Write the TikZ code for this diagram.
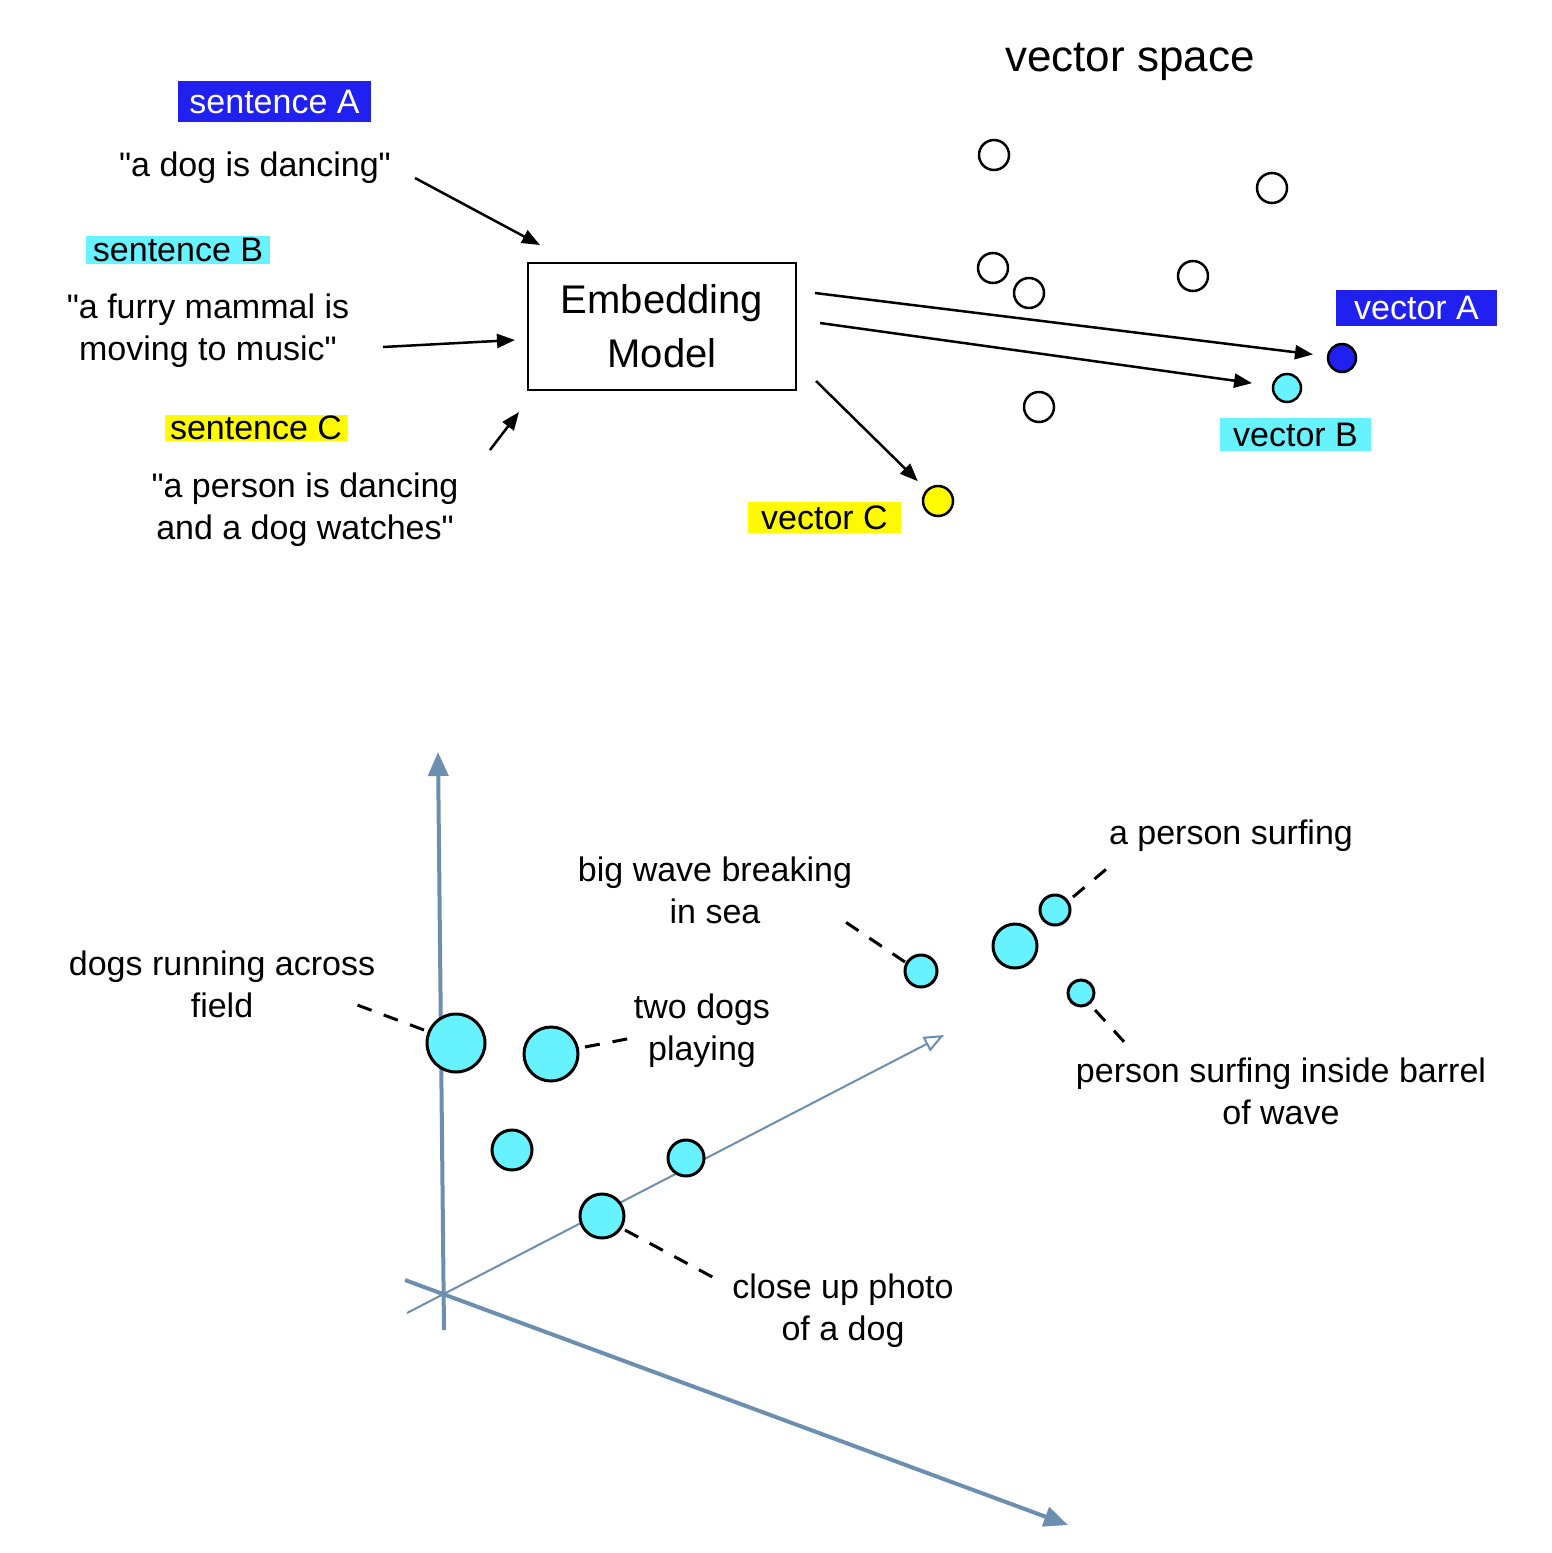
\documentclass[tikz,border=0pt]{standalone}
\usepackage{fontspec}
\setmainfont{Liberation Sans}[Ligatures=TeXOff]
\usetikzlibrary{arrows.meta}
\definecolor{hlblue}{RGB}{32,32,240}
\definecolor{hlcyan}{RGB}{102,242,255}
\definecolor{hlyellow}{RGB}{255,250,0}
\definecolor{axiscol}{RGB}{108,142,175}
\tikzset{
  lbl/.style={font=\fontsize{34}{42}\selectfont, align=center, inner sep=0pt},
  hlbox/.style={lbl, minimum width=#1, minimum height=34pt, inner sep=0pt},
  arr/.style={line width=2.5pt, -{Triangle[length=18pt,width=14pt]}},
  emptydot/.style={circle, draw=black, line width=2.5pt, fill=white, minimum size=30pt, inner sep=0pt},
  dot/.style={circle, draw=black, line width=3pt, fill=hlcyan, minimum size=#1, inner sep=0pt},
  lead/.style={line width=3pt, dash pattern=on 15pt off 13pt},
  axisline/.style={draw=axiscol, line width=4pt},
}
\begin{document}
\begin{tikzpicture}[x=1pt,y=-1pt]
\useasboundingbox[fill=white] (0,0) rectangle (1551,1553);

% ---------- top part ----------
\node[lbl, font=\fontsize{44}{50}\selectfont] (vs) at (1130,62) {vector space};

\node[hlbox=193pt, minimum height=41pt, fill=hlblue, text=white] (sA) at (274.5,101.5) {sentence A};
\node[lbl] (qa) at (255,168) {"a dog is dancing"};
\node[hlbox=184pt, minimum height=28pt, fill=hlcyan] (sB) at (178,250) {sentence B};
\node[lbl] (qb) at (208,331) {"a furry mammal is\\moving to music"};
\node[hlbox=183pt, minimum height=26pt, fill=hlyellow] (sC) at (256,428) {sentence C};
\node[lbl] (qc) at (305,510) {"a person is dancing\\and a dog watches"};

\node[draw, line width=2.5pt, minimum width=268pt, minimum height=127pt, inner sep=0pt,
      font=\fontsize{40}{54}\selectfont, align=center] (emb) at (662,326.5) {Embedding\\Model};

\coordinate (ia1) at (415,178); \coordinate (ia2) at (540,245);
\coordinate (ib1) at (383,347); \coordinate (ib2) at (515,340);
\coordinate (ic1) at (490,450); \coordinate (ic2) at (519,412);
\draw[arr] (ia1) -- (ia2);
\draw[arr] (ib1) -- (ib2);
\draw[arr] (ic1) -- (ic2);

% empty vectors
\node[emptydot] (e1) at (994,155) {};
\node[emptydot] (e2) at (1272,188) {};
\node[emptydot] (e3) at (993,268) {};
\node[emptydot] (e4) at (1029,293) {};
\node[emptydot] (e5) at (1193,276) {};
\node[emptydot] (e6) at (1039,407) {};

% coloured vectors
\node[circle, draw=black, line width=2.5pt, fill=hlblue, minimum size=28pt, inner sep=0pt] (dA) at (1342,358) {};
\node[circle, draw=black, line width=2.5pt, fill=hlcyan, minimum size=28pt, inner sep=0pt] (dB) at (1287,388) {};
\node[circle, draw=black, line width=2.5pt, fill=hlyellow, minimum size=30pt, inner sep=0pt] (dC) at (938,501) {};

\node[hlbox=161pt, minimum height=36pt, fill=hlblue, text=white] (vA) at (1416.5,308) {vector A};
\node[hlbox=151pt, minimum height=33pt, fill=hlcyan] (vB) at (1295.5,434.5) {vector B};
\node[hlbox=153pt, minimum height=31pt, fill=hlyellow] (vC) at (824.5,517.5) {vector C};

\coordinate (oA) at (815,293);
\coordinate (oB) at (820,323);
\coordinate (oC) at (816,381);
\draw[arr, shorten >=14pt] (oA) -- (dA);
\draw[arr, shorten >=20pt] (oB) -- (dB);
\draw[arr, shorten >=12pt] (oC) -- (dC);

% ---------- bottom part ----------
\coordinate (vbot) at (444,1330); \coordinate (vtop) at (438,752);
\coordinate (dstart) at (405,1280); \coordinate (dend) at (1068,1525);
\coordinate (tstart) at (407,1313); \coordinate (tend) at (944,1035);
\draw[axisline, -{Triangle[length=24pt,width=20pt]}, axiscol] (vbot) -- (vtop);
\draw[axisline, -{Triangle[length=24pt,width=20pt]}, axiscol] (dstart) -- (dend);
\draw[draw=axiscol, line width=2pt, -{Triangle[open,length=20pt,width=16pt]}] (tstart) -- (tend);

\node[dot=58pt] (p1) at (456,1043) {};
\node[dot=54pt] (p2) at (551,1054) {};
\node[dot=40pt] (p3) at (512,1150) {};
\node[dot=36pt] (p4) at (686,1158) {};
\node[dot=44pt] (p5) at (602,1216) {};
\node[dot=32pt] (p6) at (921,971) {};
\node[dot=44pt] (p7) at (1015,946) {};
\node[dot=30pt] (p8) at (1055,910) {};
\node[dot=26pt] (p9) at (1081,993) {};

\node[lbl] (t1) at (222,984) {dogs running across\\field};
\node[lbl] (t2) at (702,1031) {two dogs\\playing};
\node[lbl] (t3) at (715,890) {big wave breaking\\in sea};
\node[lbl] (t4) at (1231,836) {a person surfing};
\node[lbl] (t5) at (1281,1091) {person surfing inside barrel\\of wave};
\node[lbl] (t6) at (843,1311) {close up photo\\of a dog};

\coordinate (k1a) at (424,1030); \coordinate (k1b) at (352,1003);
\coordinate (k2a) at (585,1047); \coordinate (k2b) at (632,1038);
\coordinate (k3a) at (905,962);  \coordinate (k3b) at (838,917);
\coordinate (k4a) at (1073,897); \coordinate (k4b) at (1110,866);
\coordinate (k5a) at (1095,1010); \coordinate (k5b) at (1127,1045);
\coordinate (k6a) at (625,1230); \coordinate (k6b) at (718,1280);
\draw[lead] (k1a) -- (k1b);
\draw[lead] (k2a) -- (k2b);
\draw[lead] (k3a) -- (k3b);
\draw[lead] (k4a) -- (k4b);
\draw[lead] (k5a) -- (k5b);
\draw[lead] (k6a) -- (k6b);
\end{tikzpicture}
\end{document}
